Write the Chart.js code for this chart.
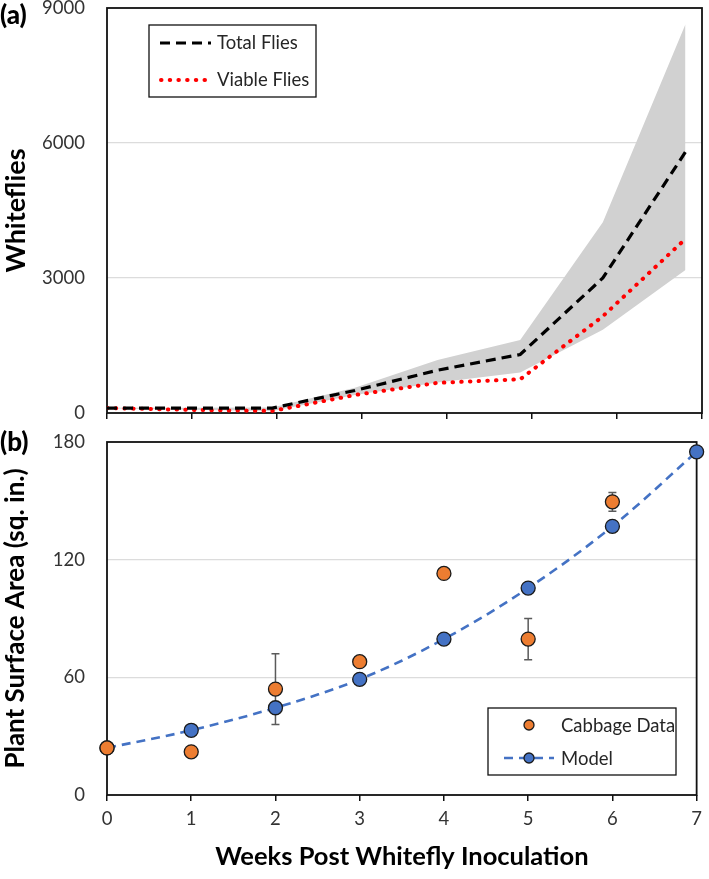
<!DOCTYPE html>
<html>
<head>
<meta charset="utf-8">
<script src="https://cdn.jsdelivr.net/npm/chart.js@4.4.1/dist/chart.umd.min.js"></script>
<style>
  html, body { margin: 0; padding: 0; background: #fff; }
  #wrap { position: relative; width: 709px; height: 879px; overflow: hidden; font-family: Lato, sans-serif; }
  #topBox { position: absolute; left: 0; top: -4px; width: 709px; height: 434px; }
  #botBox { position: absolute; left: 0; top: 420px; width: 709px; height: 459px; }
  .tag { position: absolute; left: 0; font: 900 26px Lato, sans-serif; color: #000; line-height: 28px; }
</style>
</head>
<body>
<div id="wrap">
  <div id="topBox"><canvas id="flyChart"></canvas></div>
  <div id="botBox"><canvas id="areaChart"></canvas></div>
  <div class="tag" style="top:0px">(a)</div>
  <div class="tag" style="top:427px">(b)</div>
</div>
<script>
// panel (a) - whitefly counts
const weeks = [0, 1, 2, 3, 4, 5, 6, 7];
const totalFlies = [110, 110, 110, 500, 950, 1300, 3000, 5800];
const viableFlies = [110, 70, 45, 400, 670, 750, 2150, 3870];
const bandUpper = [115, 115, 120, 560, 1180, 1620, 4240, 8640];
const bandLower = [105, 70, 45, 400, 680, 900, 1850, 3180];
const flyTicks = [0, 3000, 6000, 9000];

// panel (b) - plant surface area
const cabbageMean = [24, 22, 54, 68, 113, 79.5, 149.5];
const cabbageErr = [0, 0, 18, 0, 0, 10.5, 4.8];
const modelArea = [24, 33, 44.5, 59, 79.5, 105.5, 137, 175];
const areaTicks = [0, 60, 120, 180];

const FONT = 'Lato, sans-serif';
const TICK_COLOR = '#333';
const ORANGE = '#ED7D31';
const BLUE = '#4472C4';

const pts = (ys) => ys.map((y, i) => ({ x: weeks[i], y: y }));

// cadre noir autour de la zone du graphe
const framePlugin = {
  id: 'frame',
  beforeDatasetsDraw(chart) {
    const { ctx, chartArea: a } = chart;
    ctx.save();
    ctx.strokeStyle = '#111';
    ctx.lineWidth = 1.8;
    ctx.strokeRect(a.left, a.top, a.right - a.left, a.bottom - a.top);
    ctx.restore();
  }
};

function drawLegendLine(ctx, ds, x1, x2, y) {
  ctx.save();
  ctx.strokeStyle = ds.borderColor;
  ctx.lineWidth = ds.borderWidth;
  ctx.setLineDash(ds.borderDash || []);
  ctx.lineCap = ds.borderCapStyle || 'butt';
  ctx.beginPath();
  ctx.moveTo(x1, y);
  ctx.lineTo(x2, y);
  ctx.stroke();
  ctx.restore();
}

function drawMarker(ctx, ds, x, y, r) {
  ctx.save();
  ctx.fillStyle = ds.pointBackgroundColor;
  ctx.strokeStyle = ds.pointBorderColor;
  ctx.lineWidth = ds.pointBorderWidth;
  ctx.beginPath();
  ctx.arc(x, y, r, 0, Math.PI * 2);
  ctx.fill();
  ctx.stroke();
  ctx.restore();
}

function legendBox(ctx, x, y, w, h) {
  ctx.save();
  ctx.fillStyle = '#fff';
  ctx.fillRect(x, y, w, h);
  ctx.strokeStyle = '#111';
  ctx.lineWidth = 1.3;
  ctx.strokeRect(x, y, w, h);
  ctx.restore();
}

function legendText(ctx, text, x, y) {
  ctx.save();
  ctx.fillStyle = '#262626';
  ctx.font = '18.5px ' + FONT;
  ctx.textBaseline = 'middle';
  ctx.fillText(text, x, y);
  ctx.restore();
}

const flyLegend = {
  id: 'flyLegend',
  afterDraw(chart) {
    const { ctx, chartArea: a } = chart;
    const ds = chart.data.datasets;
    legendBox(ctx, a.left + 42, a.top + 17, 167, 72);
    drawLegendLine(ctx, ds[0], a.left + 53, a.left + 104, a.top + 35);
    legendText(ctx, ds[0].label, a.left + 110, a.top + 35);
    drawLegendLine(ctx, ds[1], a.left + 54, a.left + 101, a.top + 72);
    legendText(ctx, ds[1].label, a.left + 110, a.top + 72);
  }
};

const errorBars = {
  id: 'errorBars',
  beforeDatasetsDraw(chart) {
    const { ctx } = chart;
    const xs = chart.scales.x, ys = chart.scales.y;
    ctx.save();
    ctx.strokeStyle = '#5a5a5a';
    ctx.lineWidth = 1.5;
    cabbageMean.forEach((m, i) => {
      const e = cabbageErr[i];
      if (!e) return;
      const px = xs.getPixelForValue(weeks[i]);
      const top = ys.getPixelForValue(m + e);
      const bot = ys.getPixelForValue(m - e);
      ctx.beginPath();
      ctx.moveTo(px, top); ctx.lineTo(px, bot);
      ctx.moveTo(px - 4, top); ctx.lineTo(px + 4, top);
      ctx.moveTo(px - 4, bot); ctx.lineTo(px + 4, bot);
      ctx.stroke();
    });
    ctx.restore();
  }
};

const areaLegend = {
  id: 'areaLegend',
  afterDraw(chart) {
    const { ctx, chartArea: a } = chart;
    const ds = chart.data.datasets;
    legendBox(ctx, a.left + 381, a.top + 266, 188, 67);
    drawMarker(ctx, ds[0], a.left + 422, a.top + 283, 5);
    legendText(ctx, ds[0].label, a.left + 454, a.top + 284);
    drawLegendLine(ctx, ds[1], a.left + 397, a.left + 447, a.top + 316);
    drawMarker(ctx, ds[1], a.left + 422, a.top + 316, 5);
    legendText(ctx, ds[1].label, a.left + 454, a.top + 317);
  }
};

const yGridColor = (c) => (c.tick && (c.index === 0 || c.index === c.chart.scales.y.ticks.length - 1)) ? 'rgba(0,0,0,0)' : '#dcdcdc';

// largeur fixe de l'axe y, et pas de marge haut/bas venant du padding des ticks
const fixY = (s) => { s.width = 107; s.paddingTop = 0; s.paddingBottom = 0; };

new Chart(document.getElementById('flyChart'), {
  type: 'line',
  data: {
    datasets: [
      {
        label: 'Total Flies',
        data: pts(totalFlies),
        borderColor: '#000',
        borderWidth: 3.2,
        borderDash: [10, 6],
        pointRadius: 0,
        fill: false
      },
      {
        label: 'Viable Flies',
        data: pts(viableFlies),
        borderColor: '#ff0000',
        borderWidth: 4,
        borderDash: [0.5, 8.2],
        borderCapStyle: 'round',
        pointRadius: 0,
        fill: false
      },
      {
        label: 'lower',
        data: pts(bandLower),
        borderWidth: 0,
        borderColor: 'rgba(0,0,0,0)',
        pointRadius: 0,
        fill: false
      },
      {
        label: 'upper',
        data: pts(bandUpper),
        borderWidth: 0,
        borderColor: 'rgba(0,0,0,0)',
        backgroundColor: '#d1d1d1',
        pointRadius: 0,
        fill: '-1'
      }
    ]
  },
  options: {
    responsive: true,
    maintainAspectRatio: false,
    animation: false,
    layout: { padding: { top: 12, right: 7, left: 0, bottom: 0 } },
    plugins: { legend: { display: false }, tooltip: { enabled: false } },
    scales: {
      x: {
        type: 'linear',
        min: 0,
        max: 7.2,
        afterBuildTicks: (s) => { s.ticks = weeks.map((w) => ({ value: w * 7.2 / 7 })); },
        afterFit: (s) => { s.height = 17; },
        ticks: { display: false },
        grid: { drawOnChartArea: false, drawTicks: true, tickLength: 6, color: '#111', lineWidth: 1.5 },
        border: { display: false }
      },
      y: {
        min: 0,
        max: 9000,
        afterBuildTicks: (s) => { s.ticks = flyTicks.map((v) => ({ value: v })); },
        afterFit: fixY,
        ticks: { padding: 22, color: TICK_COLOR, font: { family: FONT, size: 18.5 }, callback: (v) => String(v) },
        grid: { color: yGridColor, drawTicks: false, lineWidth: 1.2 },
        border: { display: false },
        title: { display: true, text: 'Whiteflies', color: '#000', font: { family: FONT, size: 27, weight: 'bold' }, padding: { top: 0, bottom: 0 } }
      }
    }
  },
  plugins: [framePlugin, flyLegend]
});

new Chart(document.getElementById('areaChart'), {
  type: 'line',
  data: {
    datasets: [
      {
        label: 'Cabbage Data',
        data: pts(cabbageMean),
        showLine: false,
        pointRadius: 7,
        pointBackgroundColor: ORANGE,
        pointBorderColor: '#1a1a1a',
        pointBorderWidth: 1.3,
        clip: false
      },
      {
        label: 'Model',
        data: pts(modelArea),
        borderColor: BLUE,
        borderWidth: 2.6,
        borderDash: [9, 6],
        tension: 0.35,
        pointRadius: 7,
        pointBackgroundColor: BLUE,
        pointBorderColor: '#1a1a1a',
        pointBorderWidth: 1.3,
        clip: false
      }
    ]
  },
  options: {
    responsive: true,
    maintainAspectRatio: false,
    animation: false,
    layout: { padding: { top: 22, right: 9, left: 0, bottom: 0 } },
    plugins: { legend: { display: false }, tooltip: { enabled: false } },
    scales: {
      x: {
        type: 'linear',
        min: 0,
        max: 7,
        afterBuildTicks: (s) => { s.ticks = weeks.map((w) => ({ value: w })); },
        afterFit: (s) => { s.height = 84; },
        ticks: { padding: 7, color: TICK_COLOR, font: { family: FONT, size: 18.5 }, maxRotation: 0 },
        grid: { drawOnChartArea: false, drawTicks: true, tickLength: 6, color: '#111', lineWidth: 1.5 },
        border: { display: false },
        title: { display: true, text: 'Weeks Post Whitefly Inoculation', color: '#000', font: { family: FONT, size: 25.5, weight: 'bold' }, padding: { top: 0, bottom: 7 } }
      },
      y: {
        min: 0,
        max: 180,
        afterBuildTicks: (s) => { s.ticks = areaTicks.map((v) => ({ value: v })); },
        afterFit: fixY,
        ticks: { padding: 22, color: TICK_COLOR, font: { family: FONT, size: 18.5 } },
        grid: { color: yGridColor, drawTicks: false, lineWidth: 1.2 },
        border: { display: false },
        title: { display: true, text: 'Plant Surface Area (sq. in.)', color: '#000', font: { family: FONT, size: 26, weight: 'bold' }, padding: { top: 0, bottom: 0 } }
      }
    }
  },
  plugins: [framePlugin, errorBars, areaLegend]
});
</script>
</body>
</html>
